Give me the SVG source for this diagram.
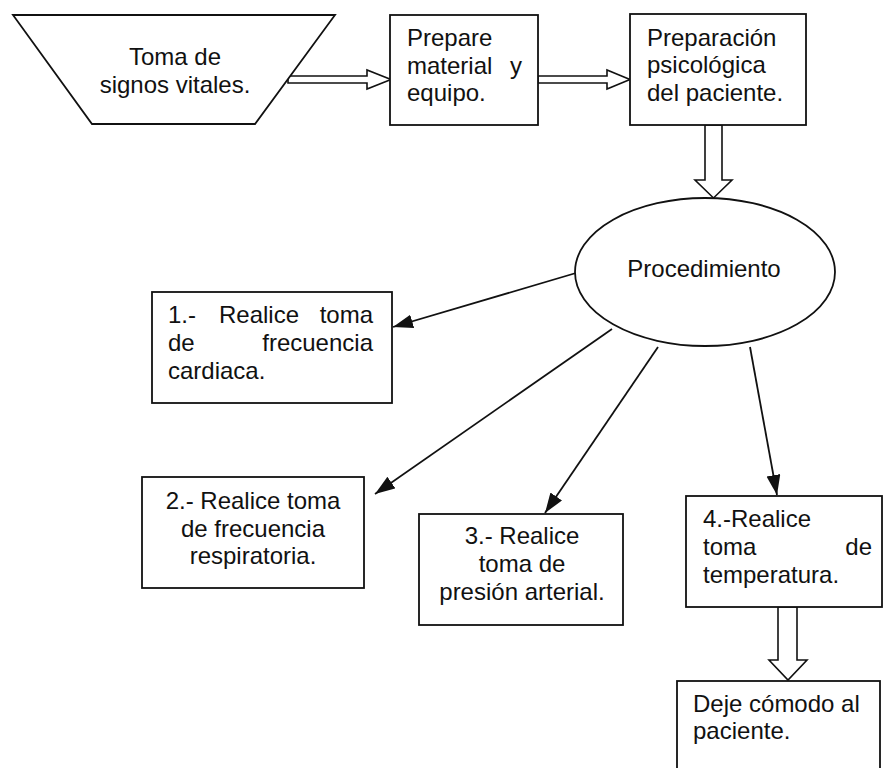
<svg xmlns="http://www.w3.org/2000/svg" width="884" height="768" viewBox="0 0 884 768">
  <style>
    .shape { fill: #ffffff; stroke: #111111; stroke-width: 1.8; }
    .hollow { fill: #ffffff; stroke: #111111; stroke-width: 1.6; stroke-linejoin: miter; }
    .link { fill: none; stroke: #111111; stroke-width: 1.8; marker-end: url(#head); }
    text { font-family: "Liberation Sans", Arial, sans-serif; font-size: 24px; fill: #111111; }
    .c { text-anchor: middle; }
    .e { text-anchor: end; }
  </style>
  <defs>
    <marker id="head" markerUnits="userSpaceOnUse" markerWidth="22" markerHeight="16" refX="20" refY="7" orient="auto">
      <path d="M0,0 L20,7 L0,14 Z" fill="#111111"/>
    </marker>
  </defs>

  <rect width="884" height="768" fill="#ffffff"/>

  <!-- connectors -->
  <g id="connectors">
    <polygon class="hollow" points="288,76 367,76 367,70 391,79.5 367,89 367,83 288,83"/>
    <polygon class="hollow" points="538,76 607,76 607,70 630,79.5 607,89 607,83 538,83"/>
    <polygon class="hollow" points="705,125 705,180 695,180 713.5,198 732,180 722,180 722,125"/>
    <polygon class="hollow" points="778,607 778,660 769,660 788,680 807,660 797,660 797,607"/>
    <line class="link" x1="576" y1="273" x2="393" y2="327"/>
    <line class="link" x1="612" y1="329" x2="375" y2="494"/>
    <line class="link" x1="658" y1="347" x2="545" y2="513"/>
    <line class="link" x1="750" y1="347" x2="777" y2="495"/>
  </g>

  <g id="start">
    <polygon class="shape" points="13,15 335,15 255,124 92,124"/>
    <text class="c" x="175" y="65">Toma de</text>
    <text class="c" x="175" y="93">signos vitales.</text>
  </g>

  <g id="material">
    <rect class="shape" x="390" y="15" width="148" height="110"/>
    <text x="407" y="46">Prepare</text>
    <text x="407" y="74">material</text>
    <text class="e" x="522" y="74">y</text>
    <text x="407" y="101">equipo.</text>
  </g>

  <g id="preparacion">
    <rect class="shape" x="630" y="14" width="176" height="111"/>
    <text x="647" y="46">Preparación</text>
    <text x="647" y="73">psicológica</text>
    <text x="647" y="101">del paciente.</text>
  </g>

  <g id="procedimiento">
    <ellipse class="shape" cx="705" cy="272" rx="130" ry="74"/>
    <text class="c" x="704" y="277">Procedimiento</text>
  </g>

  <g id="paso1">
    <rect class="shape" x="152" y="292" width="240" height="111"/>
    <text x="168" y="323">1.-</text>
    <text x="219" y="323">Realice</text>
    <text class="e" x="373" y="323">toma</text>
    <text x="168" y="351">de</text>
    <text class="e" x="373" y="351">frecuencia</text>
    <text x="168" y="379">cardiaca.</text>
  </g>

  <g id="paso2">
    <rect class="shape" x="142" y="477" width="222" height="111"/>
    <text class="c" x="253" y="509">2.- Realice toma</text>
    <text class="c" x="253" y="537">de frecuencia</text>
    <text class="c" x="253" y="564">respiratoria.</text>
  </g>

  <g id="paso3">
    <rect class="shape" x="419" y="514" width="204" height="111"/>
    <text class="c" x="522" y="544">3.- Realice</text>
    <text class="c" x="522" y="572">toma de</text>
    <text class="c" x="522" y="600">presión arterial.</text>
  </g>

  <g id="paso4">
    <rect class="shape" x="686" y="496" width="196" height="111"/>
    <text x="703" y="527">4.-Realice</text>
    <text x="703" y="555">toma</text>
    <text class="e" x="872" y="555">de</text>
    <text x="703" y="583">temperatura.</text>
  </g>

  <g id="final">
    <rect class="shape" x="677" y="681" width="203" height="100"/>
    <text x="693" y="712">Deje cómodo al</text>
    <text x="693" y="739">paciente.</text>
  </g>
</svg>
